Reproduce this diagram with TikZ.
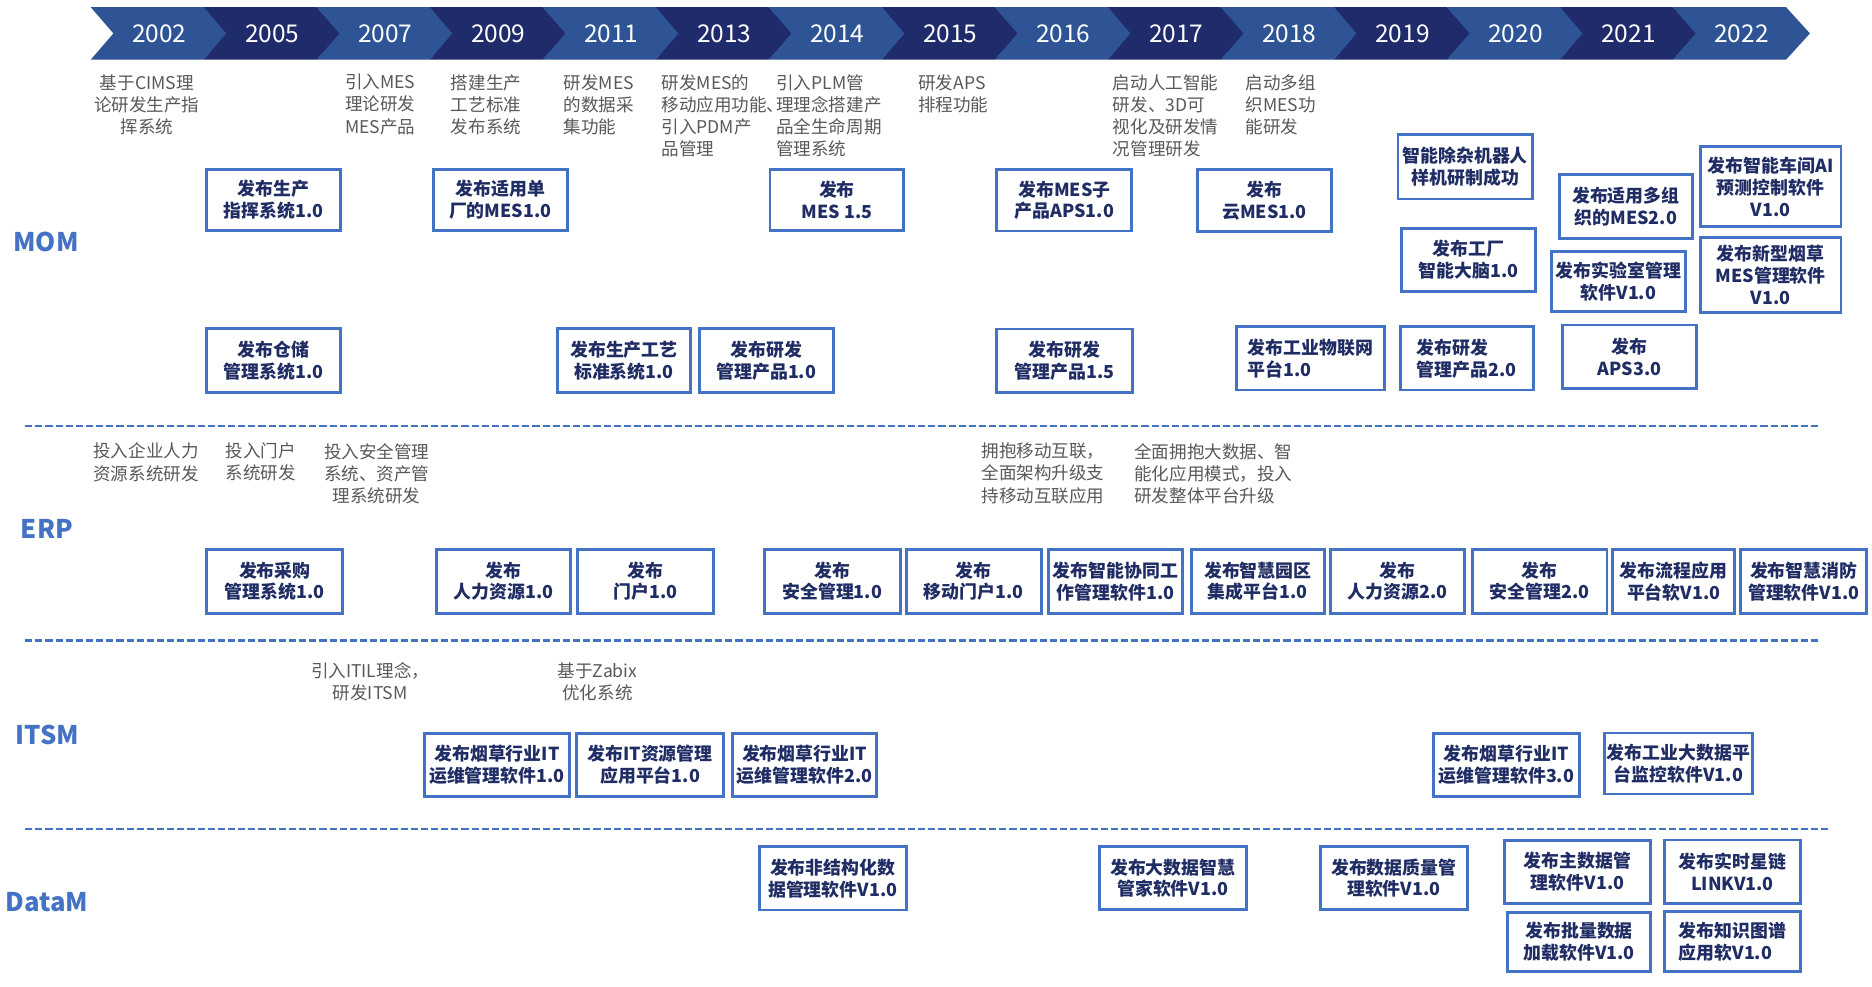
\documentclass[tikz,border=0pt]{standalone}
\usepackage{fontspec}
\setmainfont{Noto Sans CJK SC}
\definecolor{lightchev}{HTML}{2E5496}
\definecolor{darkchev}{HTML}{1F2B6B}
\definecolor{boxblue}{HTML}{4472C4}
\definecolor{navytext}{HTML}{1F2D64}
\definecolor{graytext}{HTML}{595959}
\definecolor{catblue}{HTML}{4472C4}
\tikzset{
  mbox/.style={draw=boxblue, line width=2.4pt, fill=white, align=center, inner sep=0pt,
    text=navytext, font=\fontsize{15}{18.3}\selectfont\bfseries},
  note/.style={text=graytext, inner sep=0pt, font=\fontsize{14.7}{18.5}\selectfont},
  notel/.style={note, anchor=west, align=left},
  notec/.style={note, anchor=center, align=center},
  cat/.style={text=catblue, inner sep=0pt, font=\fontsize{21.5}{26}\selectfont\bfseries},
  yearlbl/.style={text=white, inner sep=0pt, font=\fontsize{20.5}{24}\selectfont},
  sepline/.style={draw=boxblue, line width=2pt, dash pattern=on 6pt off 2.5pt},
}
\newcommand\mybox[7]{\node[mbox,#1, minimum width={(#5-#3)*1pt}, minimum height={(#6-#4)*1pt}] (#2) at ({(#3+#5)/2},{(#4+#6)/2}) {#7};}
\begin{document}
\begin{tikzpicture}[x=1pt,y=-1pt]
\path[use as bounding box, fill=white] (0,0) rectangle (1568,826);

% timeline chevrons
\foreach \i/\yr/\col in {0/2002/lightchev,1/2005/darkchev,2/2007/lightchev,3/2009/darkchev,4/2011/lightchev,5/2013/darkchev,6/2014/lightchev,7/2015/darkchev,8/2016/lightchev,9/2017/darkchev,10/2018/lightchev,11/2019/darkchev,12/2020/lightchev,13/2021/darkchev,14/2022/lightchev}{
  \pgfmathsetmacro\xa{76+\i*94.667}
  \pgfmathsetmacro\xb{\xa+94.667}
  \fill[\col] (\xa,6) -- (\xb,6) -- (\xb+20,28) -- (\xb,50) -- (\xa,50) -- (\xa+19,28) -- cycle;
  \node[yearlbl] (y\yr) at ({(\xa+\xb)/2+10},28.5) {\yr};
}

% category labels
\node[cat] (mom) at (38.5,203) {MOM};
\node[cat] (erp) at (39.3,443) {ERP};
\node[cat] (itsm) at (39.5,616) {ITSM};
\node[cat] (datam) at (39.5,756) {DataM};

% separators
\coordinate (d1a) at (21,357); \coordinate (d1b) at (1523,357);
\coordinate (d2a) at (21,536.6); \coordinate (d2b) at (1524,536.6);
\coordinate (d3a) at (21,694.3); \coordinate (d3b) at (1532,694.3);
\draw[sepline] (d1a) -- (d1b);
\draw[sepline] (d2a) -- (d2b);
\draw[sepline] (d3a) -- (d3b);

% MOM notes
\node[notec] (n1) at (123,87.5) {基于CIMS理\\论研发生产指\\挥系统};
\node[notel] (n2) at (289,87.5) {引入MES\\理论研发\\MES产品};
\node[notel] (n3) at (377.5,87.5) {搭建生产\\工艺标准\\发布系统};
\node[notel] (n4) at (472,87.5) {研发MES\\的数据采\\集功能};
\node[notel] (n5) at (554,96.75) {研发MES的\\移动应用功能、\\引入PDM产\\品管理};
\node[notel] (n6) at (650,96.75) {引入PLM管\\理理念搭建产\\品全生命周期\\管理系统};
\node[notel] (n7) at (769,78.25) {研发APS\\排程功能};
\node[notel] (n8) at (932,96.75) {启动人工智能\\研发、3D可\\视化及研发情\\况管理研发};
\node[notel] (n9) at (1043,87.5) {启动多组\\织MES功\\能研发};

% ERP notes
\node[notel] (n10) at (78,387.2) {投入企业人力\\资源系统研发};
\node[notel] (n11) at (189,387.2) {投入门户\\系统研发};
\node[notec] (n12) at (315.5,396.5) {投入安全管理\\系统、资产管\\理系统研发};
\node[notel] (n13) at (822,396.5) {拥抱移动互联，\\全面架构升级支\\持移动互联应用};
\node[notel] (n14) at (950,396.5) {全面拥抱大数据、智\\能化应用模式，投入\\研发整体平台升级};

% ITSM notes
\node[notec] (n15) at (310,571) {引入ITIL理念，\\研发ITSM};
\node[notec] (n16) at (500.5,571) {基于Zabix\\优化系统};

% MOM boxes
\mybox{}{b1}{173}{142}{285}{193}{发布生产\\指挥系统1.0}
\mybox{}{b2}{363}{142}{475}{193}{发布适用单\\厂的MES1.0}
\mybox{}{b3}{645}{142}{757}{193}{发布\\MES 1.5}
\mybox{}{b4}{835}{142}{948}{193.5}{发布MES子\\产品APS1.0}
\mybox{}{b5}{1003}{142}{1115}{194}{发布\\云MES1.0}
\mybox{}{b6}{1171}{113}{1283.5}{166.7}{智能除杂机器人\\样机研制成功}
\mybox{}{b7}{1174}{191.3}{1286}{244.3}{发布工厂\\智能大脑1.0}
\mybox{}{b8}{1306}{146}{1417.7}{199.6}{发布适用多组\\织的MES2.0}
\mybox{}{b9}{1299.5}{210.3}{1411.7}{261.1}{发布实验室管理\\软件V1.0}
\mybox{}{b10}{1424.3}{122.9}{1542}{189.9}{发布智能车间AI\\预测控制软件\\V1.0}
\mybox{}{b11}{1424.3}{199}{1542}{262}{发布新型烟草\\MES管理软件\\V1.0}
\mybox{}{b12}{173}{275.5}{285}{329}{发布仓储\\管理系统1.0}
\mybox{}{b13}{467}{275.5}{578.3}{329}{发布生产工艺\\标准系统1.0}
\mybox{}{b14}{585.8}{275.5}{697.8}{329}{发布研发\\管理产品1.0}
\mybox{}{b15}{835}{275.6}{948.4}{328.9}{发布研发\\管理产品1.5}
\mybox{align=left}{b16}{1035.4}{273.6}{1159.7}{326.7}{发布工业物联网\\平台1.0}
\mybox{align=left}{b17}{1172.8}{273.6}{1284.4}{326.7}{发布研发\\管理产品2.0}
\mybox{}{b18}{1308.6}{272.2}{1421.2}{325.3}{发布\\APS3.0}

% ERP boxes
\mybox{}{e1}{173.2}{460}{287.2}{513.7}{发布采购\\管理系统1.0}
\mybox{}{e2}{365.5}{460}{478}{513.7}{发布\\人力资源1.0}
\mybox{}{e3}{483.5}{460}{597.5}{513.7}{发布\\门户1.0}
\mybox{}{e4}{640}{460}{754}{513.7}{发布\\安全管理1.0}
\mybox{}{e5}{759}{460}{872}{513.7}{发布\\移动门户1.0}
\mybox{}{e6}{878.5}{460}{990.2}{513.7}{发布智能协同工\\作管理软件1.0}
\mybox{}{e7}{997.7}{460}{1109.4}{513.7}{发布智慧园区\\集成平台1.0}
\mybox{}{e8}{1114.4}{460}{1226.6}{513.7}{发布\\人力资源2.0}
\mybox{}{e9}{1233}{460}{1346}{513.7}{发布\\安全管理2.0}
\mybox{}{e10}{1350.8}{460}{1453}{513.7}{发布流程应用\\平台软V1.0}
\mybox{}{e11}{1458}{460}{1563.6}{513.7}{发布智慧消防\\管理软件V1.0}

% ITSM boxes
\mybox{}{i1}{355.4}{614.2}{477}{667.3}{发布烟草行业IT\\运维管理软件1.0}
\mybox{}{i2}{483}{614.2}{606}{667.3}{发布IT资源管理\\应用平台1.0}
\mybox{}{i3}{613.5}{614.2}{734.4}{667.3}{发布烟草行业IT\\运维管理软件2.0}
\mybox{}{i4}{1200.4}{614.2}{1323.1}{667.3}{发布烟草行业IT\\运维管理软件3.0}
\mybox{}{i5}{1343.8}{614}{1468}{665}{发布工业大数据平\\台监控软件V1.0}

% DataM boxes
\mybox{}{m1}{636}{709.2}{759}{762.2}{发布非结构化数\\据管理软件V1.0}
\mybox{}{m2}{920.7}{709}{1044}{762}{发布大数据智慧\\管家软件V1.0}
\mybox{}{m3}{1105.9}{709}{1229}{762}{发布数据质量管\\理软件V1.0}
\mybox{}{m4}{1260.3}{704}{1382.5}{756.6}{发布主数据管\\理软件V1.0}
\mybox{}{m5}{1394}{703.6}{1508.3}{756.6}{发布实时星链\\LINKV1.0}
\mybox{}{m6}{1262.8}{764}{1382.5}{813.9}{发布批量数据\\加载软件V1.0}
\mybox{align=left}{m7}{1394}{763.6}{1508.3}{814}{发布知识图谱\\应用软V1.0}
\end{tikzpicture}
\end{document}
